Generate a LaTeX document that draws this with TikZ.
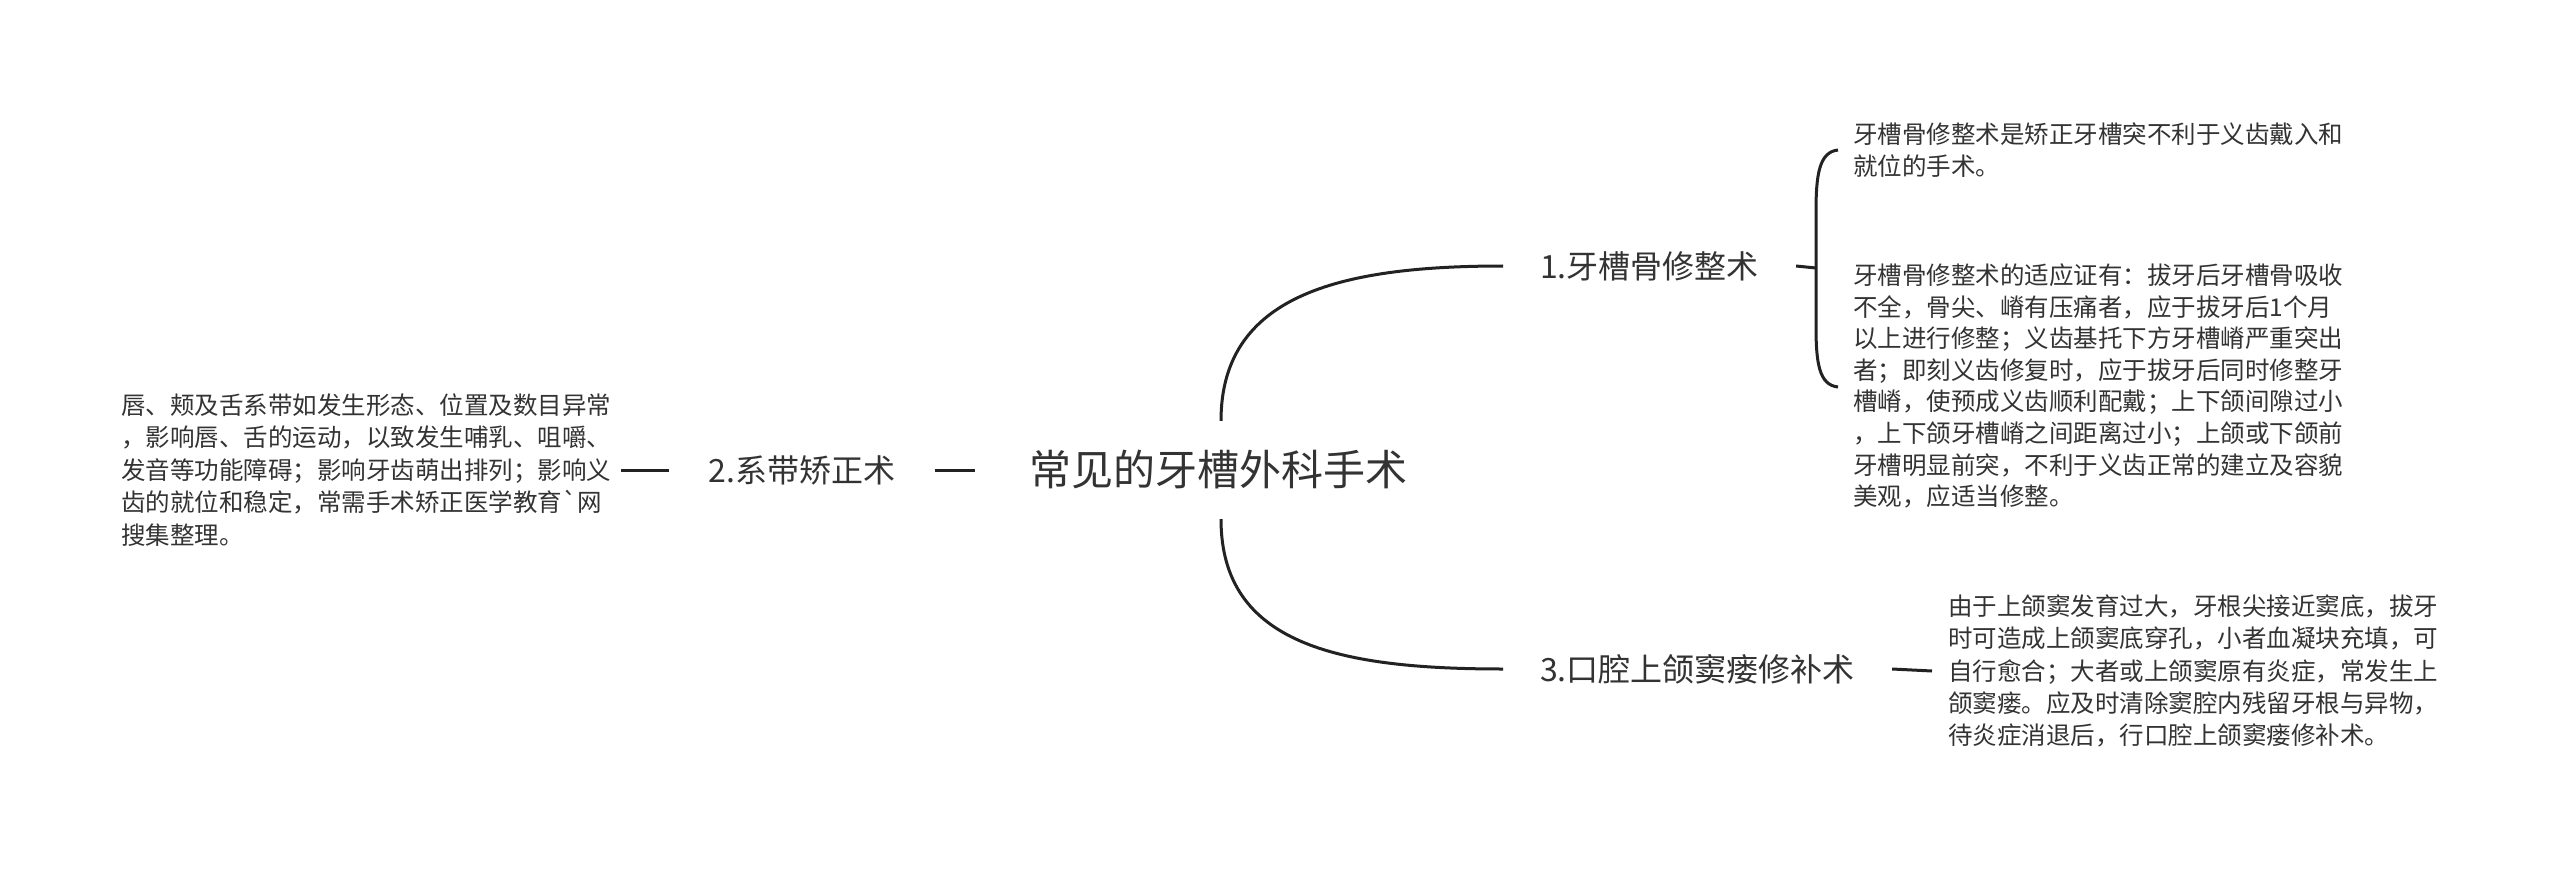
\documentclass[tikz,border=0pt]{standalone}
\usepackage{fontspec}
\newfontfamily\cjk{Noto Sans CJK SC}
\definecolor{textgray}{HTML}{333333}
\definecolor{linegray}{HTML}{222222}
\begin{document}
\begin{tikzpicture}[x=1pt,y=-1pt,
  txt/.style={font=\cjk\fontsize{24.5}{31.6}\selectfont, text=textgray, align=left, inner sep=0pt},
  brnode/.style={font=\cjk\fontsize{32}{38}\selectfont, text=textgray, inner ysep=0pt, inner xsep=37pt},
  ln/.style={draw=linegray, line width=3pt}]
\useasboundingbox[fill=white] (0,0) rectangle (2560,869);

\node[font=\cjk\fontsize{42}{50}\selectfont, text=textgray, inner xsep=54pt, inner ysep=0pt, minimum height=98pt] (root) at (1218,470) {常见的牙槽外科手术};

\node[brnode, anchor=west] (b1) at (1503,266) {1.牙槽骨修整术};
\node[brnode, inner xsep=39pt] (b2) at (802,470) {2.系带矫正术};
\node[brnode, anchor=west] (b3) at (1503,669) {3.口腔上颌窦瘘修补术};

\node[txt, anchor=west] (t1) at (1853,150) {牙槽骨修整术是矫正牙槽突不利于义齿戴入和\\就位的手术。};
\node[txt, anchor=west] (t2) at (1853,386) {牙槽骨修整术的适应证有：拔牙后牙槽骨吸收\\不全，骨尖、嵴有压痛者，应于拔牙后1个月\\以上进行修整；义齿基托下方牙槽嵴严重突出\\者；即刻义齿修复时，应于拔牙后同时修整牙\\槽嵴，使预成义齿顺利配戴；上下颌间隙过小\\，上下颌牙槽嵴之间距离过小；上颌或下颌前\\牙槽明显前突，不利于义齿正常的建立及容貌\\美观，应适当修整。};
\node[txt, anchor=west, font=\cjk\fontsize{24.5}{32.4}\selectfont] (lt) at (121,470) {唇、颊及舌系带如发生形态、位置及数目异常\\，影响唇、舌的运动，以致发生哺乳、咀嚼、\\发音等功能障碍；影响牙齿萌出排列；影响义\\齿的就位和稳定，常需手术矫正医学教育`网\\搜集整理。};
\node[txt, anchor=west, font=\cjk\fontsize{24.5}{32.1}\selectfont] (t3) at (1948,671) {由于上颌窦发育过大，牙根尖接近窦底，拔牙\\时可造成上颌窦底穿孔，小者血凝块充填，可\\自行愈合；大者或上颌窦原有炎症，常发生上\\颌窦瘘。应及时清除窦腔内残留牙根与异物，\\待炎症消退后，行口腔上颌窦瘘修补术。};

% connectors
\draw[ln] ([xshift=3pt]root.north) .. controls +(0,-125) and +(-165,0) .. (b1.west);
\draw[ln] ([xshift=3pt]root.south) .. controls +(0,125) and +(-165,0) .. (b3.west);
\draw[ln] (b2.east) -- (root.west);
\draw[ln] ([xshift=10pt]lt.east) -- (b2.west);
\draw[ln] (b3.east) -- ([xshift=-16pt]t3.west);

% brace
\coordinate (bj) at (1816,268);
\draw[ln] (b1.east) -- (bj);
\draw[ln] (1838,150) .. controls (1819,152) and (1816,175) .. (1816,212) -- (1816,326) .. controls (1816,363) and (1819,385) .. (1838,387);
\end{tikzpicture}
\end{document}
